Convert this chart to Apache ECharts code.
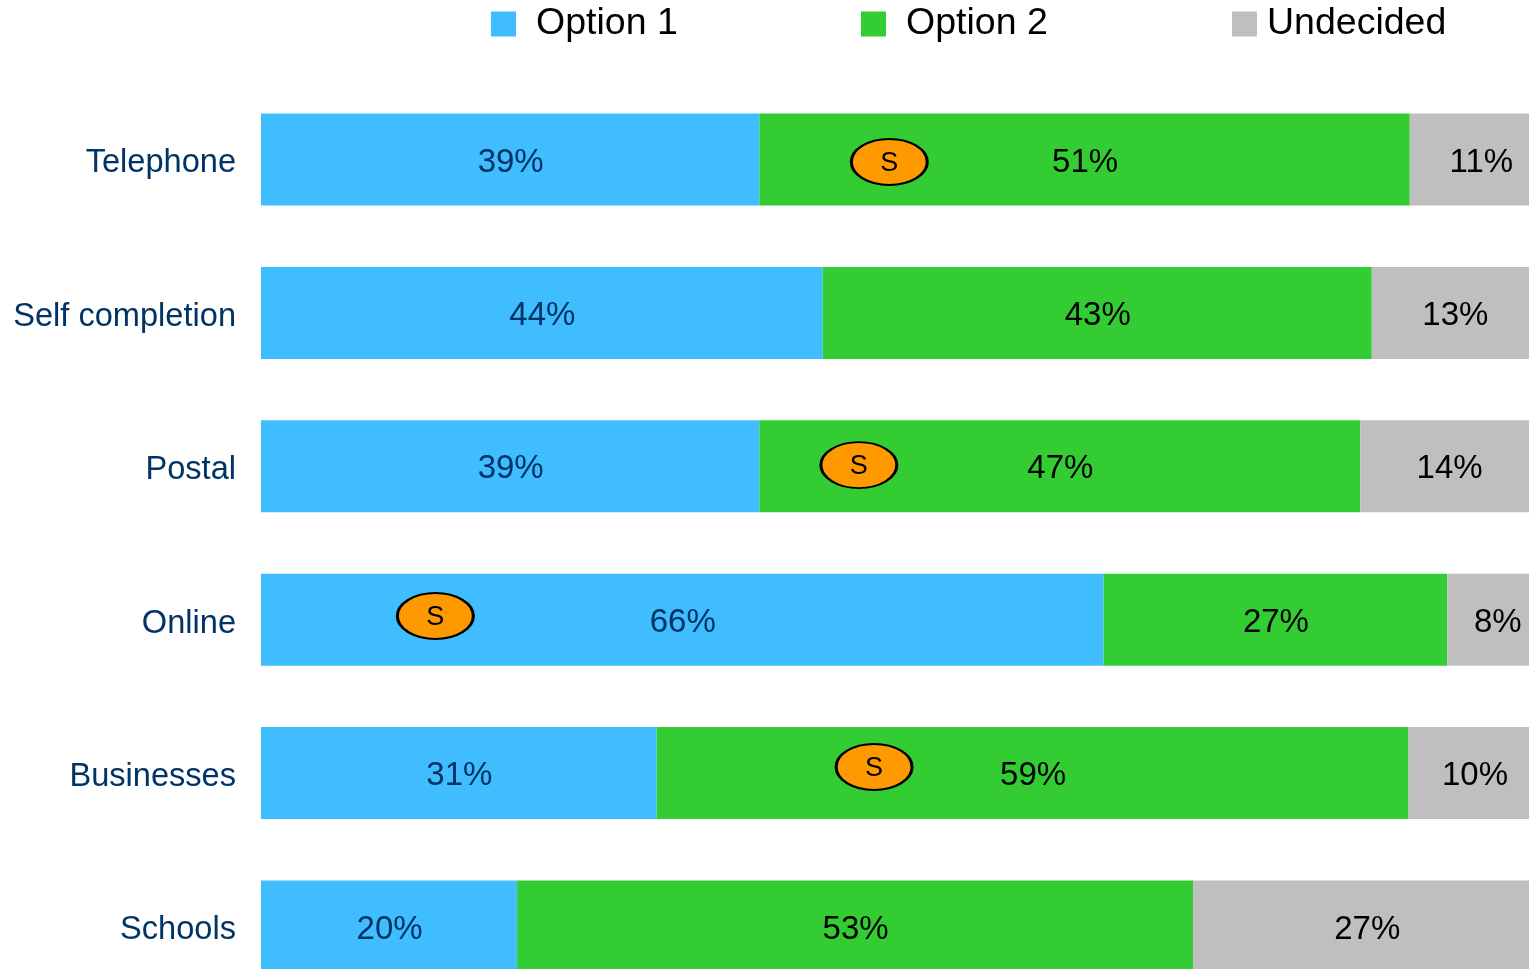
<!DOCTYPE html>
<html><head><meta charset="utf-8">
<script src="https://cdn.jsdelivr.net/npm/echarts@6/dist/echarts.min.js"></script>
<style>html,body{margin:0;padding:0;background:#fff;overflow:hidden}#c{width:1529px;height:969px}</style>
</head><body><div id="c"></div>
<script>
const categories = ['Telephone','Self completion','Postal','Online','Businesses','Schools'];
const option1 = [39.3,44.3,39.3,66.45,31.2,20.2];
const option2 = [51.3,43.3,47.4,27.1,59.3,53.3];
const undecided = [11.2,13.1,14.0,7.9,10.4,27.4];
const markers = [[49.55,0.516],[47.15,2.492],[13.75,3.476],[48.35,4.46]];
const FONT = '"Liberation Sans", Arial, sans-serif';
const fmt = p => Math.round(p.value) + '%';
function bar(name, data, color, labelColor){
  return {name, type:'bar', stack:'t', data, barWidth:92, clip:false,
    itemStyle:{color}, silent:true,
    label:{show:true, position:'inside', offset:[0.5,3], formatter:fmt, color:labelColor, fontFamily:FONT, fontSize:33}};
}
function leg(name,left,gap){
  return {show:true,data:[name],left,top:5,padding:0,itemWidth:25,itemHeight:25,icon:'rect',
    textStyle:{fontFamily:FONT,fontSize:37.5,color:'#000',padding:[0,0,0,gap]}};
}
const chart = echarts.init(document.getElementById('c'),null,{renderer:'canvas'});
chart.setOption({
  animation:false,
  backgroundColor:'#fff',
  legend:[leg('Option 1',491,15),leg('Option 2',861,15),leg('Undecided',1232,5)],
  grid:{left:261,top:82.8,width:1268*1.2,height:920.4,containLabel:false,outerBoundsMode:'none'},
  xAxis:{type:'value',min:0,max:120,show:false},
  yAxis:[
    {type:'category',inverse:true,data:categories,axisLine:{show:false},axisTick:{show:false},
     axisLabel:{margin:25,formatter:'{a|{value}}',
       rich:{a:{fontFamily:FONT,fontSize:32.6,color:'#003366',padding:[8,0,0,0]}}}},
    {type:'value',inverse:true,min:0,max:6,show:false}
  ],
  series:[
    bar('Option 1',option1,'#3FBDFF','#003366'),
    bar('Option 2',option2,'#33CC33','#000'),
    bar('Undecided',undecided,'#BFBFBF','#000'),
    {type:'scatter',yAxisIndex:1,data:markers,symbol:'circle',symbolSize:[76,46],z:5,silent:true,
     itemStyle:{color:'#FF9900',borderColor:'#000',borderWidth:2.4,opacity:1},
     label:{show:true,position:'inside',formatter:'S',color:'#000',fontFamily:FONT,fontSize:27,offset:[0,1.5]}}
  ]
});
</script></body></html>
